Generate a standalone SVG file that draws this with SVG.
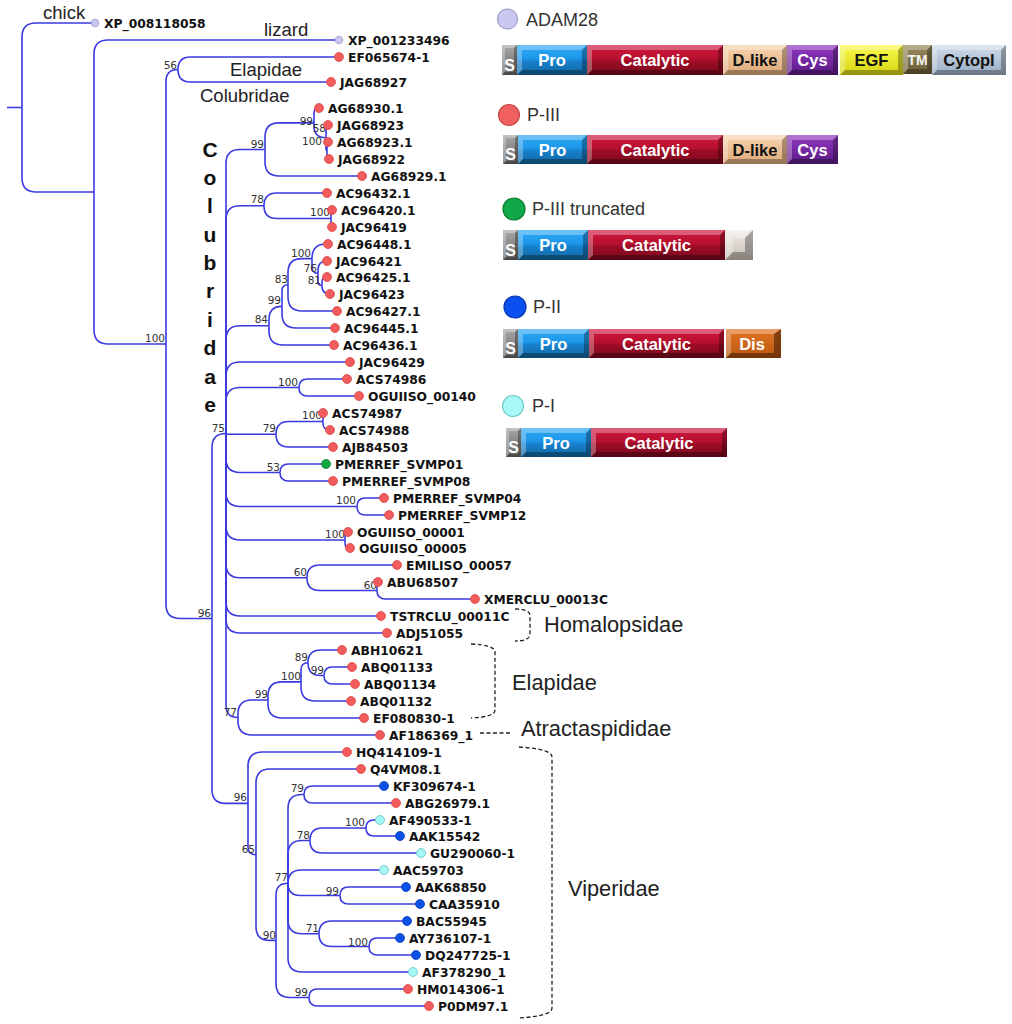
<svg xmlns="http://www.w3.org/2000/svg" width="1012" height="1024" viewBox="0 0 1012 1024">
<style>
.e{fill:none;stroke:#3a3ae0;stroke-width:1.6}
.lf{font-family:"DejaVu Sans",sans-serif;font-weight:bold;font-size:12.3px;fill:#111}
.bs{font-family:"DejaVu Sans",sans-serif;font-size:10.5px;fill:#333;text-anchor:end}
.r{fill:#f25c5c;stroke:#d84848;stroke-width:.8}
.lv{fill:#c8c8f2;stroke:#9a9ac8;stroke-width:.8}
.bu{fill:#0b50e8;stroke:#0a3cb0;stroke-width:.8}
.cy{fill:#a6f6f6;stroke:#66c4c4;stroke-width:.8}
.gr{fill:#12a846;stroke:#0c8034;stroke-width:.8}
.cl{font-family:"Liberation Sans",Arial,sans-serif;font-size:18.5px;fill:#222}
.fam{font-family:"Liberation Sans",Arial,sans-serif;font-size:21.8px;fill:#222}
.vc{font-family:"Liberation Sans",Arial,sans-serif;font-weight:bold;font-size:21px;fill:#111;text-anchor:middle}
.brk{fill:none;stroke:#222;stroke-width:1.3;stroke-dasharray:4 2.5}
.lg{font-family:"Liberation Sans",Arial,sans-serif;font-size:18px;fill:#333}
.dt{font-family:"Liberation Sans",Arial,sans-serif;font-weight:bold;font-size:16.5px;text-anchor:middle}
.st{font-family:"Liberation Sans",Arial,sans-serif;font-weight:bold;font-size:16px;text-anchor:middle;fill:#fff}
.w{fill:#fff}.k{fill:#111}
.hl{fill:#fff;fill-opacity:.3}
.sh{fill:#000;fill-opacity:.3}
</style>
<defs>
<linearGradient id="gS" x1="0" y1="0" x2="0" y2="1"><stop offset="0" stop-color="#a8a8a8"/><stop offset="1" stop-color="#666"/></linearGradient>
<linearGradient id="gP" x1="0" y1="0" x2="0" y2="1"><stop offset="0" stop-color="#30aaf6"/><stop offset=".45" stop-color="#1c96e8"/><stop offset=".55" stop-color="#1780cc"/><stop offset="1" stop-color="#12669f"/></linearGradient>
<linearGradient id="gC" x1="0" y1="0" x2="0" y2="1"><stop offset="0" stop-color="#d01840"/><stop offset=".45" stop-color="#b8102e"/><stop offset=".55" stop-color="#9c0c26"/><stop offset="1" stop-color="#7a0a1e"/></linearGradient>
<linearGradient id="gD" x1="0" y1="0" x2="0" y2="1"><stop offset="0" stop-color="#f8d4b0"/><stop offset="1" stop-color="#dca878"/></linearGradient>
<linearGradient id="gY" x1="0" y1="0" x2="0" y2="1"><stop offset="0" stop-color="#9238c0"/><stop offset="1" stop-color="#5a1a84"/></linearGradient>
<linearGradient id="gE" x1="0" y1="0" x2="0" y2="1"><stop offset="0" stop-color="#fafa50"/><stop offset="1" stop-color="#d4d410"/></linearGradient>
<linearGradient id="gT" x1="0" y1="0" x2="0" y2="1"><stop offset="0" stop-color="#988a5c"/><stop offset="1" stop-color="#6a5c36"/></linearGradient>
<linearGradient id="gU" x1="0" y1="0" x2="0" y2="1"><stop offset="0" stop-color="#d0dcea"/><stop offset="1" stop-color="#98acc2"/></linearGradient>
<linearGradient id="gR" x1="0" y1="0" x2="0" y2="1"><stop offset="0" stop-color="#f2ede6"/><stop offset="1" stop-color="#c6beb6"/></linearGradient>
<linearGradient id="gI" x1="0" y1="0" x2="0" y2="1"><stop offset="0" stop-color="#e47424"/><stop offset="1" stop-color="#b85810"/></linearGradient>
</defs>
<rect width="1012" height="1024" fill="#fff"/>

<g id="connectors">
<path class="e" d="M7,107.5 H22"/>
<path class="e" d="M22,107.5 V37 Q22,23 36,23 H95"/>
<path class="e" d="M22,107.5 V178 Q22,192 36,192 H94"/>
<path class="e" d="M94,192 V54 Q94,40 108,40 H339"/>
<path class="e" d="M94,192 V330 Q94,344 108,344 H166"/>
<path class="e" d="M166,344 V81.5 Q166,69.5 178,69.5"/>
<path class="e" d="M166,344 V604.5 Q166,618.5 180,618.5 H212"/>
<path class="e" d="M178,69.5 Q178,57 190.5,57 H339"/>
<path class="e" d="M178,69.5 Q178,82 190.5,82 H331"/>
<path class="e" d="M212,618.5 V447.5 Q212,433.5 226,433.5"/>
<path class="e" d="M212,618.5 V789.4 Q212,803.4 226,803.4 H248"/>
<path class="e" d="M226,433.5 V163.5 Q226,149.5 240,149.5 H265"/>
<path class="e" d="M226,433.5 V219.8 Q226,205.8 240,205.8 H264"/>
<path class="e" d="M226,433.5 V339.7 Q226,325.7 240,325.7 H269"/>
<path class="e" d="M226,433.5 V376 Q226,362 240,362 H350"/>
<path class="e" d="M226,433.5 V401.5 Q226,387.5 240,387.5 H299"/>
<path class="e" d="M226,433.5 V434.3 H276"/>
<path class="e" d="M226,433.5 V458.5 Q226,472.5 240,472.5 H280"/>
<path class="e" d="M226,433.5 V492.5 Q226,506.5 240,506.5 H357"/>
<path class="e" d="M226,433.5 V526 Q226,540 240,540 H345"/>
<path class="e" d="M226,433.5 V563.8 Q226,577.8 240,577.8 H307"/>
<path class="e" d="M226,433.5 V602 Q226,616 240,616 H381"/>
<path class="e" d="M226,433.5 V619 Q226,633 240,633 H387"/>
<path class="e" d="M226,433.5 V705.5 Q226,717.5 238,717.5"/>
<path class="e" d="M265,149.5 V136.9 Q265,122.9 279,122.9 H314"/>
<path class="e" d="M265,149.5 V162 Q265,176 279,176 H362"/>
<path class="e" d="M314,122.9 V113 Q314,108 319,108"/>
<path class="e" d="M314,122.9 V125.8 Q314,137.8 326,137.8"/>
<path class="e" d="M326,137.8 V127 Q326,125 328,125"/>
<path class="e" d="M326,137.8 V149.5 Q326,150.5 327,150.5"/>
<path class="e" d="M327,150.5 V143 Q327,142 328,142"/>
<path class="e" d="M327,150.5 V157 Q327,159 329,159"/>
<path class="e" d="M264,205.8 Q264,193 276.8,193 H327"/>
<path class="e" d="M264,205.8 Q264,218.5 276.7,218.5 H331"/>
<path class="e" d="M331,218.5 V211 Q331,210 332,210"/>
<path class="e" d="M331,218.5 V226 Q331,227 332,227"/>
<path class="e" d="M269,325.7 V319.4 Q269,306.4 282,306.4"/>
<path class="e" d="M269,325.7 V331 Q269,345 283,345 H334"/>
<path class="e" d="M282,306.4 V290.8 Q282,284.8 288,284.8"/>
<path class="e" d="M282,306.4 V314 Q282,328 296,328 H335"/>
<path class="e" d="M288,284.8 V272.6 Q288,258.6 302,258.6 H312"/>
<path class="e" d="M288,284.8 V297 Q288,311 302,311 H337"/>
<path class="e" d="M312,258.6 Q312,244 326,244 H328"/>
<path class="e" d="M312,258.6 V267.3 Q312,273.3 318,273.3"/>
<path class="e" d="M318,273.3 V270 Q318,261 327,261"/>
<path class="e" d="M318,273.3 V281.5 Q318,285.5 322,285.5"/>
<path class="e" d="M322,285.5 V282 Q322,277 327,277"/>
<path class="e" d="M322,285.5 V286 Q322,294 330,294"/>
<path class="e" d="M299,387.5 Q299,379 307.5,379 H347"/>
<path class="e" d="M299,387.5 Q299,396 307.5,396 H359"/>
<path class="e" d="M276,434.3 Q276,421.5 288.8,421.5 H323"/>
<path class="e" d="M276,434.3 Q276,447 288.7,447 H333"/>
<path class="e" d="M323,421.5 V413"/>
<path class="e" d="M323,421.5 V423 Q323,430 330,430"/>
<path class="e" d="M280,472.5 Q280,464 288.5,464 H326"/>
<path class="e" d="M280,472.5 Q280,481 288.5,481 H333"/>
<path class="e" d="M357,506.5 Q357,498 365.5,498 H384"/>
<path class="e" d="M357,506.5 Q357,515 365.5,515 H389"/>
<path class="e" d="M345,540 V535 Q345,532 348,532"/>
<path class="e" d="M345,540 V543 Q345,548 350,548"/>
<path class="e" d="M307,577.8 Q307,565 319.8,565 H397"/>
<path class="e" d="M307,577.8 Q307,590.5 319.7,590.5 H377"/>
<path class="e" d="M377,590.5 V583 Q377,582 378,582"/>
<path class="e" d="M377,590.5 Q377,599 385.5,599 H475"/>
<path class="e" d="M238,717.5 V714 Q238,700 252,700 H268"/>
<path class="e" d="M238,717.5 V721 Q238,735 252,735 H380"/>
<path class="e" d="M268,700 V695.9 Q268,681.9 282,681.9 H301"/>
<path class="e" d="M268,700 V704 Q268,718 282,718 H364"/>
<path class="e" d="M301,681.9 V669.8 Q301,662.8 308,662.8"/>
<path class="e" d="M301,681.9 V687 Q301,701 315,701 H351"/>
<path class="e" d="M308,662.8 Q308,650 320.8,650 H342"/>
<path class="e" d="M308,662.8 Q308,675.5 320.7,675.5 H324"/>
<path class="e" d="M324,675.5 Q324,667 332.5,667 H352"/>
<path class="e" d="M324,675.5 Q324,684 332.5,684 H355"/>
<path class="e" d="M248,803.4 V766 Q248,752 262,752 H347"/>
<path class="e" d="M248,803.4 V846.7 Q248,854.7 256,854.7"/>
<path class="e" d="M256,854.7 V783 Q256,769 270,769 H361"/>
<path class="e" d="M256,854.7 V926.4 Q256,940.4 270,940.4 H276"/>
<path class="e" d="M276,940.4 V895.3 Q276,883.3 288,883.3"/>
<path class="e" d="M276,940.4 V983.5 Q276,997.5 290,997.5 H309"/>
<path class="e" d="M288,883.3 V808.5 Q288,794.5 302,794.5 H304"/>
<path class="e" d="M288,883.3 V854.5 Q288,840.5 302,840.5 H310"/>
<path class="e" d="M288,883.3 Q288,870 301.3,870 H384"/>
<path class="e" d="M288,883.3 Q288,895.5 300.2,895.5 H340"/>
<path class="e" d="M288,883.3 V919.8 Q288,933.8 302,933.8 H319"/>
<path class="e" d="M288,883.3 V958 Q288,972 302,972 H413"/>
<path class="e" d="M304,794.5 Q304,786 312.5,786 H384"/>
<path class="e" d="M304,794.5 Q304,803 312.5,803 H396"/>
<path class="e" d="M310,840.5 Q310,828 322.5,828 H366"/>
<path class="e" d="M310,840.5 Q310,853 322.5,853 H421"/>
<path class="e" d="M366,828 Q366,820 374,820 H380"/>
<path class="e" d="M366,828 Q366,836 374,836 H400"/>
<path class="e" d="M340,895.5 Q340,887 348.5,887 H406"/>
<path class="e" d="M340,895.5 Q340,904 348.5,904 H420"/>
<path class="e" d="M319,933.8 Q319,921 331.8,921 H407"/>
<path class="e" d="M319,933.8 Q319,946.5 331.7,946.5 H369"/>
<path class="e" d="M369,946.5 Q369,938 377.5,938 H400"/>
<path class="e" d="M369,946.5 Q369,955 377.5,955 H416"/>
<path class="e" d="M309,997.5 Q309,989 317.5,989 H408"/>
<path class="e" d="M309,997.5 Q309,1006 317.5,1006 H429"/>
</g>

<g id="support">
<text class="bs" x="177" y="69">56</text>
<text class="bs" x="165" y="342">100</text>
<text class="bs" x="264" y="148">99</text>
<text class="bs" x="313" y="125">99</text>
<text class="bs" x="326" y="132">58</text>
<text class="bs" x="322" y="145">100</text>
<text class="bs" x="264" y="203">78</text>
<text class="bs" x="330" y="216">100</text>
<text class="bs" x="311" y="257">100</text>
<text class="bs" x="317" y="272">76</text>
<text class="bs" x="321" y="284">81</text>
<text class="bs" x="288" y="283">83</text>
<text class="bs" x="281" y="304">99</text>
<text class="bs" x="268" y="323">84</text>
<text class="bs" x="298" y="386">100</text>
<text class="bs" x="322" y="419">100</text>
<text class="bs" x="276" y="432">79</text>
<text class="bs" x="225" y="432">75</text>
<text class="bs" x="280" y="471">53</text>
<text class="bs" x="356" y="504">100</text>
<text class="bs" x="345" y="538">100</text>
<text class="bs" x="307" y="576">60</text>
<text class="bs" x="377" y="589">60</text>
<text class="bs" x="211" y="617">96</text>
<text class="bs" x="308" y="661">89</text>
<text class="bs" x="324" y="674">99</text>
<text class="bs" x="301" y="680">100</text>
<text class="bs" x="268" y="698">99</text>
<text class="bs" x="237" y="716">77</text>
<text class="bs" x="247" y="801">96</text>
<text class="bs" x="255" y="853">65</text>
<text class="bs" x="304" y="792">79</text>
<text class="bs" x="365" y="826">100</text>
<text class="bs" x="310" y="839">78</text>
<text class="bs" x="288" y="881">77</text>
<text class="bs" x="339" y="895">99</text>
<text class="bs" x="319" y="932">71</text>
<text class="bs" x="368" y="946">100</text>
<text class="bs" x="276" y="939">90</text>
<text class="bs" x="308" y="996">99</text>
</g>

<g id="leaves">
<g id="L0"><circle class="lv" cx="95" cy="23" r="3.8"/><text class="lf" x="104" y="27.5">XP_008118058</text></g>
<g id="L1"><circle class="lv" cx="339" cy="40" r="3.8"/><text class="lf" x="348" y="44.5">XP_001233496</text></g>
<g id="L2"><circle class="r" cx="339" cy="57" r="4.5"/><text class="lf" x="348" y="61.5">EF065674-1</text></g>
<g id="L3"><circle class="r" cx="331" cy="82" r="4.5"/><text class="lf" x="340" y="86.5">JAG68927</text></g>
<g id="L4"><circle class="r" cx="319" cy="108" r="4.5"/><text class="lf" x="328" y="112.5">AG68930.1</text></g>
<g id="L5"><circle class="r" cx="328" cy="125" r="4.5"/><text class="lf" x="337" y="129.5">JAG68923</text></g>
<g id="L6"><circle class="r" cx="328" cy="142" r="4.5"/><text class="lf" x="337" y="146.5">AG68923.1</text></g>
<g id="L7"><circle class="r" cx="329" cy="159" r="4.5"/><text class="lf" x="338" y="163.5">JAG68922</text></g>
<g id="L8"><circle class="r" cx="362" cy="176" r="4.5"/><text class="lf" x="371" y="180.5">AG68929.1</text></g>
<g id="L9"><circle class="r" cx="327" cy="193" r="4.5"/><text class="lf" x="336" y="197.5">AC96432.1</text></g>
<g id="L10"><circle class="r" cx="332" cy="210" r="4.5"/><text class="lf" x="341" y="214.5">AC96420.1</text></g>
<g id="L11"><circle class="r" cx="332" cy="227" r="4.5"/><text class="lf" x="341" y="231.5">JAC96419</text></g>
<g id="L12"><circle class="r" cx="328" cy="244" r="4.5"/><text class="lf" x="337" y="248.5">AC96448.1</text></g>
<g id="L13"><circle class="r" cx="327" cy="261" r="4.5"/><text class="lf" x="336" y="265.5">JAC96421</text></g>
<g id="L14"><circle class="r" cx="327" cy="277" r="4.5"/><text class="lf" x="336" y="281.5">AC96425.1</text></g>
<g id="L15"><circle class="r" cx="330" cy="294" r="4.5"/><text class="lf" x="339" y="298.5">JAC96423</text></g>
<g id="L16"><circle class="r" cx="337" cy="311" r="4.5"/><text class="lf" x="346" y="315.5">AC96427.1</text></g>
<g id="L17"><circle class="r" cx="335" cy="328" r="4.5"/><text class="lf" x="344" y="332.5">AC96445.1</text></g>
<g id="L18"><circle class="r" cx="334" cy="345" r="4.5"/><text class="lf" x="343" y="349.5">AC96436.1</text></g>
<g id="L19"><circle class="r" cx="350" cy="362" r="4.5"/><text class="lf" x="359" y="366.5">JAC96429</text></g>
<g id="L20"><circle class="r" cx="347" cy="379" r="4.5"/><text class="lf" x="356" y="383.5">ACS74986</text></g>
<g id="L21"><circle class="r" cx="359" cy="396" r="4.5"/><text class="lf" x="368" y="400.5">OGUIISO_00140</text></g>
<g id="L22"><circle class="r" cx="323" cy="413" r="4.5"/><text class="lf" x="332" y="417.5">ACS74987</text></g>
<g id="L23"><circle class="r" cx="330" cy="430" r="4.5"/><text class="lf" x="339" y="434.5">ACS74988</text></g>
<g id="L24"><circle class="r" cx="333" cy="447" r="4.5"/><text class="lf" x="342" y="451.5">AJB84503</text></g>
<g id="L25"><circle class="gr" cx="326" cy="464" r="4.5"/><text class="lf" x="335" y="468.5">PMERREF_SVMP01</text></g>
<g id="L26"><circle class="r" cx="333" cy="481" r="4.5"/><text class="lf" x="342" y="485.5">PMERREF_SVMP08</text></g>
<g id="L27"><circle class="r" cx="384" cy="498" r="4.5"/><text class="lf" x="393" y="502.5">PMERREF_SVMP04</text></g>
<g id="L28"><circle class="r" cx="389" cy="515" r="4.5"/><text class="lf" x="398" y="519.5">PMERREF_SVMP12</text></g>
<g id="L29"><circle class="r" cx="348" cy="532" r="4.5"/><text class="lf" x="357" y="536.5">OGUIISO_00001</text></g>
<g id="L30"><circle class="r" cx="350" cy="548" r="4.5"/><text class="lf" x="359" y="552.5">OGUIISO_00005</text></g>
<g id="L31"><circle class="r" cx="397" cy="565" r="4.5"/><text class="lf" x="406" y="569.5">EMILISO_00057</text></g>
<g id="L32"><circle class="r" cx="378" cy="582" r="4.5"/><text class="lf" x="387" y="586.5">ABU68507</text></g>
<g id="L33"><circle class="r" cx="475" cy="599" r="4.5"/><text class="lf" x="484" y="603.5">XMERCLU_00013C</text></g>
<g id="L34"><circle class="r" cx="381" cy="616" r="4.5"/><text class="lf" x="390" y="620.5">TSTRCLU_00011C</text></g>
<g id="L35"><circle class="r" cx="387" cy="633" r="4.5"/><text class="lf" x="396" y="637.5">ADJ51055</text></g>
<g id="L36"><circle class="r" cx="342" cy="650" r="4.5"/><text class="lf" x="351" y="654.5">ABH10621</text></g>
<g id="L37"><circle class="r" cx="352" cy="667" r="4.5"/><text class="lf" x="361" y="671.5">ABQ01133</text></g>
<g id="L38"><circle class="r" cx="355" cy="684" r="4.5"/><text class="lf" x="364" y="688.5">ABQ01134</text></g>
<g id="L39"><circle class="r" cx="351" cy="701" r="4.5"/><text class="lf" x="360" y="705.5">ABQ01132</text></g>
<g id="L40"><circle class="r" cx="364" cy="718" r="4.5"/><text class="lf" x="373" y="722.5">EF080830-1</text></g>
<g id="L41"><circle class="r" cx="380" cy="735" r="4.5"/><text class="lf" x="389" y="739.5">AF186369_1</text></g>
<g id="L42"><circle class="r" cx="347" cy="752" r="4.5"/><text class="lf" x="356" y="756.5">HQ414109-1</text></g>
<g id="L43"><circle class="r" cx="361" cy="769" r="4.5"/><text class="lf" x="370" y="773.5">Q4VM08.1</text></g>
<g id="L44"><circle class="bu" cx="384" cy="786" r="4.5"/><text class="lf" x="393" y="790.5">KF309674-1</text></g>
<g id="L45"><circle class="r" cx="396" cy="803" r="4.5"/><text class="lf" x="405" y="807.5">ABG26979.1</text></g>
<g id="L46"><circle class="cy" cx="380" cy="820" r="4.5"/><text class="lf" x="389" y="824.5">AF490533-1</text></g>
<g id="L47"><circle class="bu" cx="400" cy="836" r="4.5"/><text class="lf" x="409" y="840.5">AAK15542</text></g>
<g id="L48"><circle class="cy" cx="421" cy="853" r="4.5"/><text class="lf" x="430" y="857.5">GU290060-1</text></g>
<g id="L49"><circle class="cy" cx="384" cy="870" r="4.5"/><text class="lf" x="393" y="874.5">AAC59703</text></g>
<g id="L50"><circle class="bu" cx="406" cy="887" r="4.5"/><text class="lf" x="415" y="891.5">AAK68850</text></g>
<g id="L51"><circle class="bu" cx="420" cy="904" r="4.5"/><text class="lf" x="429" y="908.5">CAA35910</text></g>
<g id="L52"><circle class="bu" cx="407" cy="921" r="4.5"/><text class="lf" x="416" y="925.5">BAC55945</text></g>
<g id="L53"><circle class="bu" cx="400" cy="938" r="4.5"/><text class="lf" x="409" y="942.5">AY736107-1</text></g>
<g id="L54"><circle class="bu" cx="416" cy="955" r="4.5"/><text class="lf" x="425" y="959.5">DQ247725-1</text></g>
<g id="L55"><circle class="cy" cx="413" cy="972" r="4.5"/><text class="lf" x="422" y="976.5">AF378290_1</text></g>
<g id="L56"><circle class="r" cx="408" cy="989" r="4.5"/><text class="lf" x="417" y="993.5">HM014306-1</text></g>
<g id="L57"><circle class="r" cx="429" cy="1006" r="4.5"/><text class="lf" x="438" y="1010.5">P0DM97.1</text></g>
</g>

<g id="clade-labels">
<text class="cl" x="43" y="19">chick</text>
<text class="cl" x="264" y="36">lizard</text>
<text class="cl" x="230" y="76">Elapidae</text>
<text class="cl" x="200" y="102">Colubridae</text>
<g id="colubridae-vertical">
<text class="vc" x="210" y="157">C</text>
<text class="vc" x="210" y="185">o</text>
<text class="vc" x="210" y="213">l</text>
<text class="vc" x="210" y="242">u</text>
<text class="vc" x="210" y="270">b</text>
<text class="vc" x="210" y="298">r</text>
<text class="vc" x="210" y="327">i</text>
<text class="vc" x="210" y="355">d</text>
<text class="vc" x="210" y="384">a</text>
<text class="vc" x="210" y="412">e</text>
</g>
<path class="brk" d="M515,609 Q530,609 530,616 V634 Q530,641 515,641"/>
<text class="fam" x="544" y="632">Homalopsidae</text>
<path class="brk" d="M471,644 Q495,645 495,652 V710 Q495,717 471,718"/>
<text class="fam" x="512" y="690">Elapidae</text>
<path class="brk" d="M480,733 H510"/>
<text class="fam" x="521" y="736">Atractaspididae</text>
<path class="brk" d="M519,747 Q552,749 552,757 V1008 Q552,1016 519,1018"/>
<text class="fam" x="568" y="896">Viperidae</text>
</g>

<g id="legend-adam28">
<circle cx="507.5" cy="19" r="10" fill="#c8c8f2" stroke="#a0a0c8" stroke-width="1.2"/>
<text class="lg" x="526" y="26">ADAM28</text>
<rect x="502" y="45" width="15" height="30" fill="url(#gS)"/>
<polygon class="hl" points="502,45 517,45 514,48 505,48 505,72 502,75"/><polygon class="sh" points="517,45 517,75 502,75 505,72 514,72 514,48"/>
<rect x="517" y="45" width="70" height="30" fill="url(#gP)"/>
<polygon class="hl" points="517,45 587,45 582,50 522,50 522,70 517,75"/><polygon class="sh" points="587,45 587,75 517,75 522,70 582,70 582,50"/>
<rect x="587" y="45" width="136" height="30" fill="url(#gC)"/>
<polygon class="hl" points="587,45 723,45 718,50 592,50 592,70 587,75"/><polygon class="sh" points="723,45 723,75 587,75 592,70 718,70 718,50"/>
<rect x="723" y="45" width="64" height="30" fill="url(#gD)"/>
<polygon class="hl" points="723,45 787,45 782,50 728,50 728,70 723,75"/><polygon class="sh" points="787,45 787,75 723,75 728,70 782,70 782,50"/>
<rect x="787" y="45" width="51" height="30" fill="url(#gY)"/>
<polygon class="hl" points="787,45 838,45 833,50 792,50 792,70 787,75"/><polygon class="sh" points="838,45 838,75 787,75 792,70 833,70 833,50"/>
<rect x="840" y="45" width="63" height="30" fill="url(#gE)"/>
<polygon class="hl" points="840,45 903,45 898,50 845,50 845,70 840,75"/><polygon class="sh" points="903,45 903,75 840,75 845,70 898,70 898,50"/>
<rect x="903" y="45" width="29" height="29" fill="url(#gT)"/>
<polygon class="hl" points="903,45 932,45 927,50 908,50 908,69 903,74"/><polygon class="sh" points="932,45 932,74 903,74 908,69 927,69 927,50"/>
<rect x="932" y="45" width="74" height="30" fill="url(#gU)"/>
<polygon class="hl" points="932,45 1006,45 1001,50 937,50 937,70 932,75"/><polygon class="sh" points="1006,45 1006,75 932,75 937,70 1001,70 1001,50"/>
<text class="st" x="509.5" y="71">S</text>
<text class="dt w" x="552" y="66">Pro</text>
<text class="dt w" x="655" y="66">Catalytic</text>
<text class="dt k" x="755" y="66">D-like</text>
<text class="dt w" x="812.5" y="66">Cys</text>
<text class="dt k" x="871.5" y="66">EGF</text>
<text class="st" x="917.5" y="65" style="fill:#f4f4f4;font-size:14px">TM</text>
<text class="dt k" x="969" y="66">Cytopl</text>
</g>

<g id="legend-p3">
<circle cx="509" cy="115" r="10.5" fill="#f06060" stroke="#c44a4a" stroke-width="1.2"/>
<text class="lg" x="527" y="121">P-III</text>
<rect x="503" y="135" width="15" height="29" fill="url(#gS)"/>
<polygon class="hl" points="503,135 518,135 515,138 506,138 506,161 503,164"/><polygon class="sh" points="518,135 518,164 503,164 506,161 515,161 515,138"/>
<rect x="518" y="135" width="69" height="29" fill="url(#gP)"/>
<polygon class="hl" points="518,135 587,135 582,140 523,140 523,159 518,164"/><polygon class="sh" points="587,135 587,164 518,164 523,159 582,159 582,140"/>
<rect x="587" y="135" width="136" height="29" fill="url(#gC)"/>
<polygon class="hl" points="587,135 723,135 718,140 592,140 592,159 587,164"/><polygon class="sh" points="723,135 723,164 587,164 592,159 718,159 718,140"/>
<rect x="723" y="135" width="64" height="29" fill="url(#gD)"/>
<polygon class="hl" points="723,135 787,135 782,140 728,140 728,159 723,164"/><polygon class="sh" points="787,135 787,164 723,164 728,159 782,159 782,140"/>
<rect x="787" y="135" width="51" height="29" fill="url(#gY)"/>
<polygon class="hl" points="787,135 838,135 833,140 792,140 792,159 787,164"/><polygon class="sh" points="838,135 838,164 787,164 792,159 833,159 833,140"/>
<text class="st" x="510.5" y="160">S</text>
<text class="dt w" x="552.5" y="155.5">Pro</text>
<text class="dt w" x="655" y="155.5">Catalytic</text>
<text class="dt k" x="755" y="155.5">D-like</text>
<text class="dt w" x="812.5" y="155.5">Cys</text>
</g>

<g id="legend-p3-truncated">
<circle cx="514" cy="209" r="11" fill="#10a848" stroke="#0a8030" stroke-width="1.2"/>
<text class="lg" x="532" y="215">P-III truncated</text>
<rect x="503" y="230" width="15" height="30" fill="url(#gS)"/>
<polygon class="hl" points="503,230 518,230 515,233 506,233 506,257 503,260"/><polygon class="sh" points="518,230 518,260 503,260 506,257 515,257 515,233"/>
<rect x="518" y="230" width="70" height="30" fill="url(#gP)"/>
<polygon class="hl" points="518,230 588,230 583,235 523,235 523,255 518,260"/><polygon class="sh" points="588,230 588,260 518,260 523,255 583,255 583,235"/>
<rect x="588" y="230" width="137" height="30" fill="url(#gC)"/>
<polygon class="hl" points="588,230 725,230 720,235 593,235 593,255 588,260"/><polygon class="sh" points="725,230 725,260 588,260 593,255 720,255 720,235"/>
<rect x="725" y="230" width="28" height="30" fill="url(#gR)"/>
<polygon class="hl" points="725,230 753,230 745,238 733,238 733,252 725,260"/><polygon class="sh" points="753,230 753,260 725,260 733,252 745,252 745,238"/>
<text class="st" x="510.5" y="256">S</text>
<text class="dt w" x="553" y="251">Pro</text>
<text class="dt w" x="656.5" y="251">Catalytic</text>
</g>

<g id="legend-p2">
<circle cx="515" cy="307" r="11" fill="#0a50f0" stroke="#0838b0" stroke-width="1.2"/>
<text class="lg" x="533" y="313">P-II</text>
<rect x="503" y="329" width="15" height="29" fill="url(#gS)"/>
<polygon class="hl" points="503,329 518,329 515,332 506,332 506,355 503,358"/><polygon class="sh" points="518,329 518,358 503,358 506,355 515,355 515,332"/>
<rect x="518" y="329" width="71" height="29" fill="url(#gP)"/>
<polygon class="hl" points="518,329 589,329 584,334 523,334 523,353 518,358"/><polygon class="sh" points="589,329 589,358 518,358 523,353 584,353 584,334"/>
<rect x="589" y="329" width="135" height="29" fill="url(#gC)"/>
<polygon class="hl" points="589,329 724,329 719,334 594,334 594,353 589,358"/><polygon class="sh" points="724,329 724,358 589,358 594,353 719,353 719,334"/>
<rect x="726" y="329" width="55" height="29" fill="url(#gI)"/>
<polygon class="hl" points="726,329 781,329 774,334 731,334 731,353 726,358"/><polygon points="781,329 781,358 726,358 731,353 774,353 774,334" fill="#3a1a04" fill-opacity=".55"/>
<text class="st" x="510.5" y="354">S</text>
<text class="dt w" x="553.5" y="349.5">Pro</text>
<text class="dt w" x="656.5" y="349.5">Catalytic</text>
<text class="dt w" x="752" y="349.5">Dis</text>
</g>

<g id="legend-p1">
<circle cx="513" cy="406" r="10.5" fill="#a8f8f8" stroke="#70c8c8" stroke-width="1.2"/>
<text class="lg" x="532" y="412">P-I</text>
<rect x="506" y="428" width="15" height="29" fill="url(#gS)"/>
<polygon class="hl" points="506,428 521,428 518,431 509,431 509,454 506,457"/><polygon class="sh" points="521,428 521,457 506,457 509,454 518,454 518,431"/>
<rect x="521" y="428" width="70" height="29" fill="url(#gP)"/>
<polygon class="hl" points="521,428 591,428 586,433 526,433 526,452 521,457"/><polygon class="sh" points="591,428 591,457 521,457 526,452 586,452 586,433"/>
<rect x="591" y="428" width="136" height="29" fill="url(#gC)"/>
<polygon class="hl" points="591,428 727,428 722,433 596,433 596,452 591,457"/><polygon class="sh" points="727,428 727,457 591,457 596,452 722,452 722,433"/>
<text class="st" x="513.5" y="453">S</text>
<text class="dt w" x="556" y="448.5">Pro</text>
<text class="dt w" x="659" y="448.5">Catalytic</text>
</g>
</svg>
